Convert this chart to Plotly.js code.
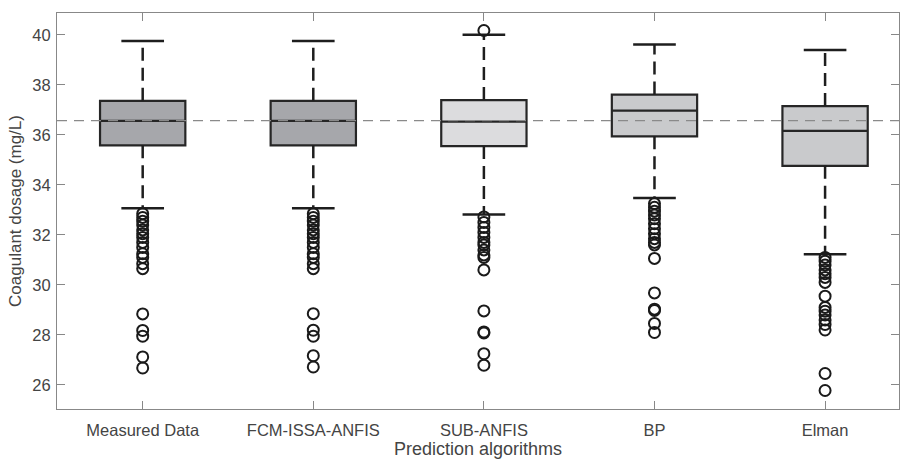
<!DOCTYPE html>
<html>
<head>
<meta charset="utf-8">
<script src="https://cdn.plot.ly/plotly-3.0.1.min.js"></script>
<style>html,body{margin:0;padding:0;background:#fff;}#chart{width:900px;height:461px;}</style>
</head>
<body>
<div id="chart"></div>
<script>
const categories = ["Measured Data", "FCM-ISSA-ANFIS", "SUB-ANFIS", "BP", "Elman"];
const lowerWhisker = [33.06, 33.06, 32.82, 33.47, 31.23];
const q1Values     = [35.58, 35.58, 35.55, 35.94, 34.76];
const medianValues = [36.56, 36.56, 36.53, 36.97, 36.16];
const q3Values     = [37.36, 37.36, 37.39, 37.61, 37.15];
const upperWhisker = [39.75, 39.75, 40.00, 39.61, 39.39];
const referenceValue = 36.57;
const outliers = [
  [32.85, 32.7, 32.55, 32.4, 32.2, 32.05, 31.9, 31.7, 31.5, 31.25, 31.1, 30.85, 30.65, 28.84, 28.18, 27.95, 27.12, 26.68],
  [32.85, 32.7, 32.55, 32.4, 32.2, 32.05, 31.9, 31.7, 31.5, 31.25, 31.1, 30.85, 30.65, 28.85, 28.19, 27.95, 27.17, 26.72],
  [40.17, 32.72, 32.5, 32.3, 32.1, 31.9, 31.7, 31.6, 31.4, 31.2, 31.1, 30.6, 28.96, 28.12, 28.08, 27.25, 26.79],
  [33.25, 33.1, 32.95, 32.8, 32.65, 32.45, 32.25, 32.05, 31.85, 31.7, 31.6, 31.06, 29.68, 29.03, 28.98, 28.46, 28.1],
  [31.1, 30.95, 30.8, 30.6, 30.45, 30.3, 30.1, 29.55, 29.1, 28.95, 28.8, 28.6, 28.42, 28.2, 26.46, 25.78]
];
const fillColors = ["#a6a7ab", "#a6a7ab", "#dcdcde", "#c9cacc", "#c9cacc"];

const positions = categories.map((c, i) => i + 1);
const capHalf = 0.125;
const traces = [];

// whiskers (dashed) and caps
positions.forEach((p, i) => {
  traces.push({
    type: 'scatter', mode: 'lines', hoverinfo: 'skip', showlegend: false,
    x: [p, p, null, p, p],
    y: [q3Values[i], upperWhisker[i], null, q1Values[i], lowerWhisker[i]],
    line: {color: '#1e1e1e', width: 2.5, dash: '13px,7px'}
  });
  traces.push({
    type: 'scatter', mode: 'lines', hoverinfo: 'skip', showlegend: false,
    x: [p - capHalf, p + capHalf, null, p - capHalf, p + capHalf],
    y: [upperWhisker[i], upperWhisker[i], null, lowerWhisker[i], lowerWhisker[i]],
    line: {color: '#1e1e1e', width: 2.5}
  });
});

// boxes
positions.forEach((p, i) => {
  traces.push({
    type: 'box', showlegend: false, hoverinfo: 'skip',
    x: [p],
    q1: [q1Values[i]], median: [medianValues[i]], q3: [q3Values[i]],
    lowerfence: [q1Values[i]], upperfence: [q3Values[i]],
    width: 0.5, whiskerwidth: 0,
    fillcolor: fillColors[i],
    line: {color: '#262626', width: 2.2},
    boxpoints: false
  });
});

// outliers
positions.forEach((p, i) => {
  traces.push({
    type: 'scatter', mode: 'markers', hoverinfo: 'skip', showlegend: false,
    x: outliers[i].map(() => p),
    y: outliers[i],
    marker: {symbol: 'circle-open', size: 11, color: '#1a1a1a', line: {width: 2, color: '#1a1a1a'}}
  });
});

const layout = {
  width: 900, height: 461,
  margin: {l: 57, r: 1, t: 13, b: 52},
  paper_bgcolor: '#ffffff', plot_bgcolor: '#ffffff',
  font: {family: 'Liberation Sans, Arial, sans-serif', color: '#444444', size: 16},
  showlegend: false,
  xaxis: {
    range: [0.4977, 5.4333],
    tickvals: positions, ticktext: categories,
    ticks: 'inside', ticklen: 8, tickcolor: '#888888', tickwidth: 1,
    showline: true, linecolor: '#888888', linewidth: 1, mirror: 'ticks',
    showgrid: false, zeroline: false,
    ticklabelstandoff: 6,
    tickfont: {size: 16.5, color: '#444444'},
    title: {text: 'Prediction algorithms', font: {size: 18, color: '#444444'}, standoff: 4}
  },
  yaxis: {
    range: [25.04, 40.87],
    tickvals: [26, 28, 30, 32, 34, 36, 38, 40],
    ticks: 'inside', ticklen: 8, tickcolor: '#888888', tickwidth: 1,
    showline: true, linecolor: '#888888', linewidth: 1, mirror: 'ticks',
    showgrid: false, zeroline: false,
    ticklabelstandoff: 2,
    tickfont: {size: 16.5, color: '#444444'},
    title: {text: 'Coagulant dosage (mg/L)', font: {size: 17, color: '#444444'}, standoff: 6}
  },
  shapes: [{
    type: 'line', xref: 'paper', yref: 'y', x0: 0, x1: 1,
    y0: referenceValue, y1: referenceValue, layer: 'above',
    line: {color: '#8a8a8a', width: 1.3, dash: '10px,7px'}
  }]
};

Plotly.newPlot('chart', traces, layout, {displayModeBar: false, staticPlot: true});
</script>
</body>
</html>
